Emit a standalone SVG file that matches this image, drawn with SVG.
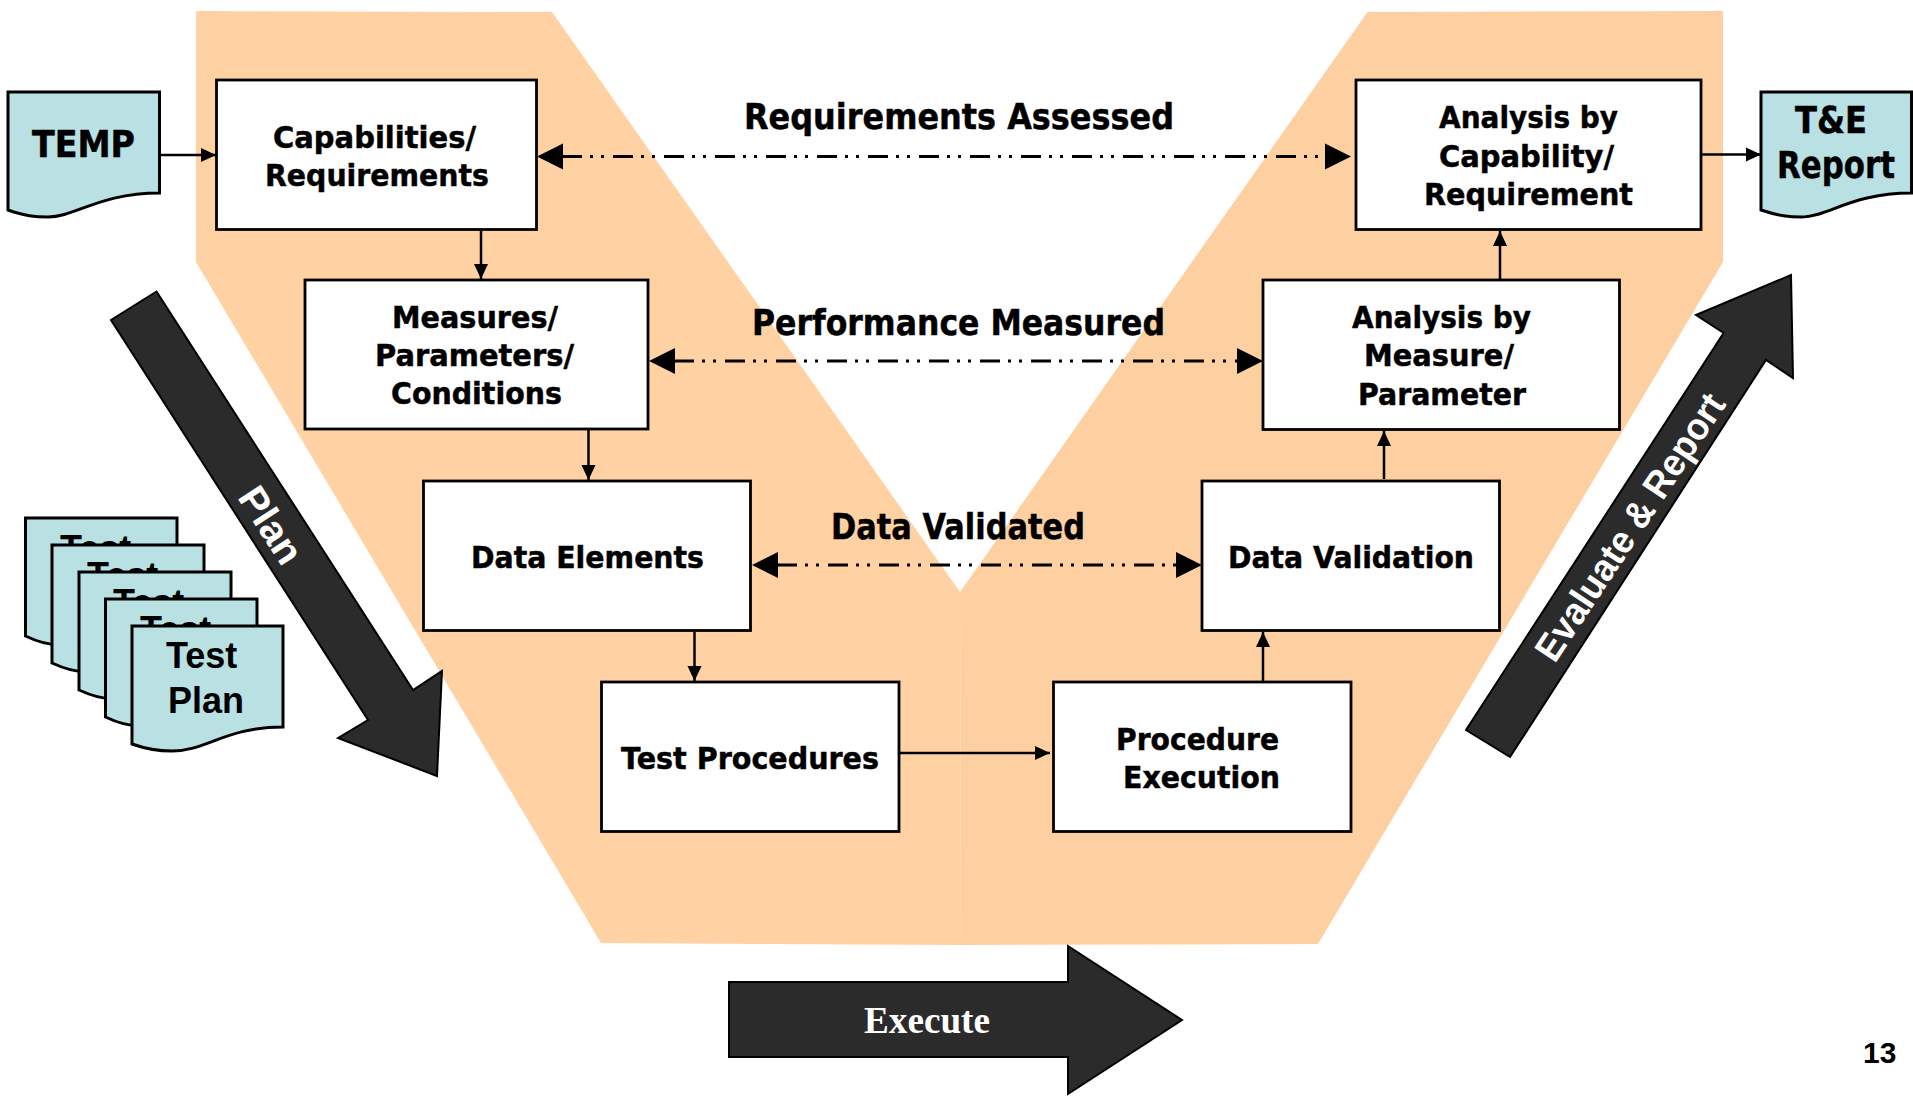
<svg xmlns="http://www.w3.org/2000/svg" width="1913" height="1096" viewBox="0 0 1913 1096">
<style>
.box{fill:#fff;stroke:#000;stroke-width:2.800}
.doc{fill:#b9e0e3;stroke:#000;stroke-width:3}
.dark{fill:#2b2b2b;stroke:#000;stroke-width:2}
.t{font-family:"DejaVu Sans",sans-serif;font-weight:700;font-size:31px;fill:#000;stroke:#000;stroke-width:.5}
.a{font-family:"Liberation Sans",Arial,sans-serif;font-weight:700;fill:#000}
.w{font-family:"Liberation Sans",Arial,sans-serif;font-weight:700;fill:#fff}
.c{fill:none;stroke:#000;stroke-width:2.500}
.dd{fill:none;stroke:#000;stroke-width:3;stroke-dasharray:20 8 3 8 3 9}
</style>
<defs>
<marker id="sm" markerUnits="userSpaceOnUse" markerWidth="16" markerHeight="16" refX="15" refY="8" orient="auto"><path d="M0,1 L15,8 L0,15 Z" fill="#000"/></marker>
<marker id="bg" markerUnits="userSpaceOnUse" markerWidth="26" markerHeight="28" refX="1" refY="14" orient="auto-start-reverse"><path d="M0,1 L26,14 L0,27 Z" fill="#000"/></marker>
</defs>
<g id="background">
<polygon points="196,11 552,12 960,592 961,945 601,943 196,262" fill="#ffd1a3"/>
<polygon points="960,592 1367.500,12 1723,11 1723,262 1318,944 961,945" fill="#fed0a1"/>
</g>
<g id="plan-arrow"><polygon class="dark" points="156.500,291.500 413,690 442,671 437,776 338,738 368,720 111,320"/><text class="w" font-size="39" transform="translate(271,525) rotate(57)" text-anchor="middle" dominant-baseline="central" textLength="84" lengthAdjust="spacingAndGlyphs">Plan</text></g>
<g id="evaluate-arrow"><polygon class="dark" points="1466,730 1723.600,333 1696,315 1791,275 1793,378 1766,360 1510,757"/><text class="w" font-size="38" transform="translate(1630,527) rotate(-56.500)" text-anchor="middle" dominant-baseline="central" textLength="312" lengthAdjust="spacingAndGlyphs">Evaluate &amp; Report</text></g>
<g id="execute-arrow"><polygon class="dark" points="729,982 1068,982 1068,946 1182,1020 1068,1094 1068,1057 729,1057"/><text x="864" y="1033" font-family="Liberation Serif,serif" font-weight="700" font-size="37" fill="#fff" textLength="126" lengthAdjust="spacingAndGlyphs">Execute</text></g>
<g id="test-plans">
<path class="doc" d="M25.500,518 H177 V620 C120,620 90,645 60,645 C50,645 38,642 25.500,636 Z"/><text class="a" font-size="36" x="60" y="561">Test</text>
<path class="doc" d="M52,545 H204 V647 C147,647 117,672 87,672 C77,672 65,669 52,663 Z"/><text class="a" font-size="36" x="87" y="588">Test</text>
<path class="doc" d="M79,572 H231 V674 C174,674 144,699 114,699 C104,699 92,696 79,690 Z"/><text class="a" font-size="36" x="113" y="615">Test</text>
<path class="doc" d="M105.500,599 H257 V701 C200,701 170,726 140,726 C130,726 118,723 105.500,717 Z"/><text class="a" font-size="36" x="140" y="642">Test</text>
<path class="doc" d="M132,626 H283 V727 C226,727 206,751 172,751 C160,751 146,749 132,744 Z"/><text class="a" font-size="36" x="166" y="668">Test</text><text class="a" font-size="36" x="168" y="713">Plan</text>
</g>
<g id="temp"><path class="doc" d="M8,92 H159.500 V193 C100,193 75,217 48,217 C35,217 25,216 8,210 Z"/><text class="t" style="font-size:37px" x="32" y="157" textLength="103" lengthAdjust="spacingAndGlyphs">TEMP</text></g>
<g id="te-report"><path class="doc" d="M1761,92 H1911.500 V193 C1852,193 1827,217 1802,217 C1789,217 1779,216 1761,210 Z"/><text class="t" style="font-size:37px" x="1795" y="133" textLength="72" lengthAdjust="spacingAndGlyphs">T&amp;E</text><text class="t" style="font-size:37px" x="1777" y="178" textLength="118" lengthAdjust="spacingAndGlyphs">Report</text></g>
<g id="capabilities"><rect class="box" x="216.500" y="80" width="320" height="149.500"/><text class="t" x="273" y="147.500" textLength="203" lengthAdjust="spacingAndGlyphs">Capabilities/</text><text class="t" x="265" y="186" textLength="224" lengthAdjust="spacingAndGlyphs">Requirements</text></g>
<g id="measures"><rect class="box" x="305" y="280" width="343" height="149"/><text class="t" x="392" y="328" textLength="166" lengthAdjust="spacingAndGlyphs">Measures/</text><text class="t" x="375" y="366" textLength="199" lengthAdjust="spacingAndGlyphs">Parameters/</text><text class="t" x="391" y="404" textLength="171" lengthAdjust="spacingAndGlyphs">Conditions</text></g>
<g id="data-elements"><rect class="box" x="423.500" y="481" width="327" height="149.500"/><text class="t" x="471" y="568" textLength="233" lengthAdjust="spacingAndGlyphs">Data Elements</text></g>
<g id="test-procedures"><rect class="box" x="601.500" y="682" width="297.500" height="149.500"/><text class="t" x="621" y="769" textLength="258" lengthAdjust="spacingAndGlyphs">Test Procedures</text></g>
<g id="procedure-execution"><rect class="box" x="1053.500" y="682" width="297.500" height="149.500"/><text class="t" x="1116" y="750" textLength="163" lengthAdjust="spacingAndGlyphs">Procedure</text><text class="t" x="1123" y="788" textLength="157" lengthAdjust="spacingAndGlyphs">Execution</text></g>
<g id="data-validation"><rect class="box" x="1202" y="481" width="297.500" height="149.500"/><text class="t" x="1228" y="568" textLength="246" lengthAdjust="spacingAndGlyphs">Data Validation</text></g>
<g id="analysis-measure"><rect class="box" x="1263" y="280" width="356.500" height="149.500"/><text class="t" x="1352" y="328" textLength="179" lengthAdjust="spacingAndGlyphs">Analysis by</text><text class="t" x="1364" y="366" textLength="150" lengthAdjust="spacingAndGlyphs">Measure/</text><text class="t" x="1358" y="405" textLength="168" lengthAdjust="spacingAndGlyphs">Parameter</text></g>
<g id="analysis-capability"><rect class="box" x="1356" y="80" width="345" height="149.500"/><text class="t" x="1439" y="128" textLength="179" lengthAdjust="spacingAndGlyphs">Analysis by</text><text class="t" x="1439" y="167" textLength="175" lengthAdjust="spacingAndGlyphs">Capability/</text><text class="t" x="1424" y="205" textLength="209" lengthAdjust="spacingAndGlyphs">Requirement</text></g>
<g id="connectors">
<path class="c" d="M160,155 H216" marker-end="url(#sm)"/>
<path class="c" d="M481,231 V279" marker-end="url(#sm)"/>
<path class="c" d="M588.500,430 V480" marker-end="url(#sm)"/>
<path class="c" d="M694.500,632 V681" marker-end="url(#sm)"/>
<path class="c" d="M900,753 H1050" marker-end="url(#sm)"/>
<path class="c" d="M1263,681 V632" marker-end="url(#sm)"/>
<path class="c" d="M1384,479 V431" marker-end="url(#sm)"/>
<path class="c" d="M1500,279 V231" marker-end="url(#sm)"/>
<path class="c" d="M1702,154.500 H1761" marker-end="url(#sm)"/>
<path class="dd" d="M562,156.500 H1326" marker-start="url(#bg)" marker-end="url(#bg)"/>
<path class="dd" d="M674,361 H1238" marker-start="url(#bg)" marker-end="url(#bg)"/>
<path class="dd" d="M777,565 H1177" marker-start="url(#bg)" marker-end="url(#bg)"/>
</g>
<g id="labels">
<text class="t" style="font-size:36px" x="744" y="129" textLength="430" lengthAdjust="spacingAndGlyphs">Requirements Assessed</text>
<text class="t" style="font-size:36px" x="752" y="335" textLength="413" lengthAdjust="spacingAndGlyphs">Performance Measured</text>
<text class="t" style="font-size:36px" x="831" y="539" textLength="254" lengthAdjust="spacingAndGlyphs">Data Validated</text>
<text class="a" font-size="30" x="1863" y="1063">13</text>
</g>
</svg>
